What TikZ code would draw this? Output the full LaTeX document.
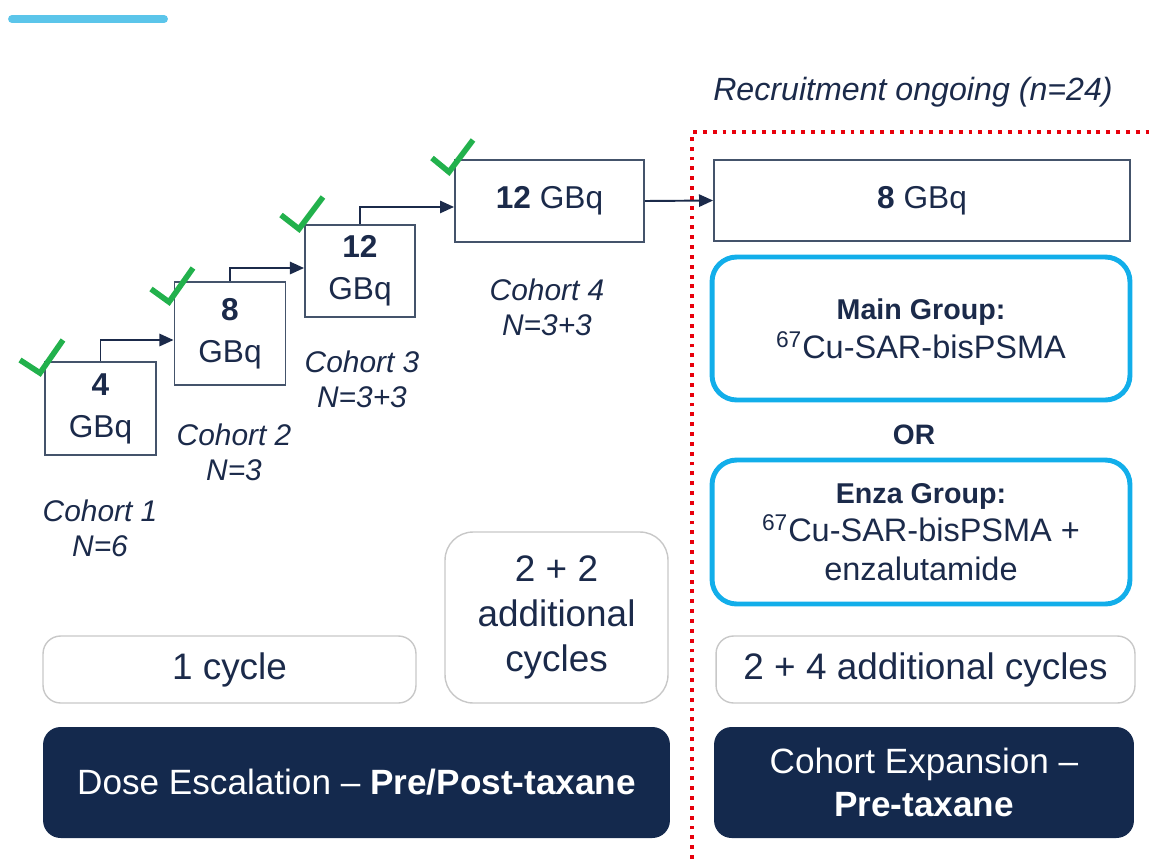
\documentclass[tikz,border=0pt]{standalone}
\usepackage{fontspec}
\setmainfont{Liberation Sans}
\usetikzlibrary{arrows.meta}

\definecolor{navy}{HTML}{1B2A4A}
\definecolor{darkbox}{HTML}{14294D}
\definecolor{edgegray}{HTML}{44536B}
\definecolor{cyanline}{HTML}{12AEEA}
\definecolor{checkgreen}{HTML}{22B14C}
\definecolor{dotred}{HTML}{E8000B}
\definecolor{softgray}{HTML}{C8C8C8}
\definecolor{barblue}{HTML}{5BC5EA}

\newcommand{\grouphead}[1]{{\fontsize{16.3}{22}\selectfont\bfseries #1}}

\tikzset{
  dosebox/.style={draw=edgegray, line width=1.1pt, fill=white, text=navy, align=center, font=\fontsize{18}{21}\selectfont, inner sep=0pt},
  groupbox/.style={draw=cyanline, line width=2.8pt, rounded corners=14pt, text=navy, align=center, font=\fontsize{18.5}{22}\selectfont, inner sep=0pt},
  cyclebox/.style={draw=softgray, line width=0.8pt, rounded corners=10pt, text=navy, align=center, font=\fontsize{21}{25.6}\selectfont, inner sep=0pt},
  phasebox/.style={fill=darkbox, rounded corners=10pt, text=white, align=center, font=\fontsize{20}{24}\selectfont, inner sep=0pt},
  cohort/.style={text=navy, align=center, font=\fontsize{17}{20}\selectfont\itshape},
  stepline/.style={draw=navy, line width=1.1pt, -{Triangle[length=8pt,width=7pt]}},
  tick/.style={draw=checkgreen, line width=3.2pt}
}

\begin{document}
\begin{tikzpicture}[x=0.02cm, y=-0.02cm]
  % frame of the picture
  \useasboundingbox (0,0) rectangle (1149,859);

  % blue bar top left
  \draw[barblue, line width=4.5pt, line cap=round] (12,19) -- (164,19);

  % recruitment marker
  \node[text=navy, font=\fontsize{18.3}{20}\selectfont\itshape] (recruit) at (913,92) {Recruitment ongoing (n=24)};
  \draw[dotred, line width=2.2pt, dash pattern=on 2.2pt off 3.4pt] (692,859) -- (692,132) -- (1149,132);

  % dose escalation boxes
  \node[dosebox, minimum width=2.22cm, minimum height=1.86cm] (d4) at (100.5,408.5) {\textbf{4}\\[3pt]GBq};
  \node[dosebox, minimum width=2.22cm, minimum height=2.06cm] (d8) at (230,333.5) {\textbf{8}\\[3pt]GBq};
  \node[dosebox, minimum width=2.20cm, minimum height=1.84cm] (d12) at (360,271) {\textbf{12}\\[3pt]GBq};
  \node[dosebox, minimum width=3.78cm, minimum height=1.64cm] (d12b) at (549.5,201) {\textbf{12} GBq};
  \node[dosebox, minimum width=8.32cm, minimum height=1.62cm] (e8) at (922,200.5) {\textbf{8} GBq};

  % cohort labels
  \node[cohort] (co1) at (100,528) {Cohort 1\\N=6};
  \node[cohort] (co2) at (234,452) {Cohort 2\\N=3};
  \node[cohort] (co3) at (362,379) {Cohort 3\\N=3+3};
  \node[cohort] (co4) at (547,307) {Cohort 4\\N=3+3};

  % steps between doses
  \draw[stepline] (d4.north) |- ([yshift=-3.7pt]d8.west);
  \draw[stepline] (d8.north) |- ([yshift=1.7pt]d12.west);
  \draw[stepline] (d12.north) |- ([yshift=-3.4pt]d12b.west);
  \draw[stepline] (d12b.east) -- (e8.west);

  % check marks
  \draw[tick] (20,360) -- (40,373) -- (63,340);
  \draw[tick] (151,289) -- (169,302) -- (193,268);
  \draw[tick] (281,215) -- (299,229) -- (323,197);
  \draw[tick] (432,158) -- (449,172) -- (473,140);

  % expansion groups
  \node[groupbox, minimum width=8.36cm, minimum height=2.86cm] (main) at (921,328.5)
    {\grouphead{Main Group:}\\\textsuperscript{67}Cu-SAR-bisPSMA};
  \node[text=navy, font=\fontsize{16}{18}\selectfont\bfseries] (or) at (914,435) {OR};
  \node[groupbox, minimum width=8.36cm, minimum height=2.88cm] (enza) at (921,532)
    {\grouphead{Enza Group:}\\\textsuperscript{67}Cu-SAR-bisPSMA +\\enzalutamide};

  % cycles
  \node[cyclebox, minimum width=7.46cm, minimum height=1.34cm] (cyc1) at (229.5,669.5) {1 cycle};
  \node[cyclebox, rounded corners=16pt, minimum width=4.46cm, minimum height=3.42cm] (cyc22) at (556.5,617.5) {2 + 2\\additional\\cycles};
  \node[cyclebox, minimum width=8.38cm, minimum height=1.34cm] (cyc24) at (925.5,669.5) {2 + 4 additional cycles};

  % phases
  \node[phasebox, minimum width=12.54cm, minimum height=2.22cm] (dose) at (356.5,782.5) {Dose Escalation -- \textbf{Pre/Post-taxane}};
  \node[phasebox, minimum width=8.40cm, minimum height=2.22cm] (expand) at (924,782.5) {Cohort Expansion --\\\textbf{Pre-taxane}};
\end{tikzpicture}
\end{document}
